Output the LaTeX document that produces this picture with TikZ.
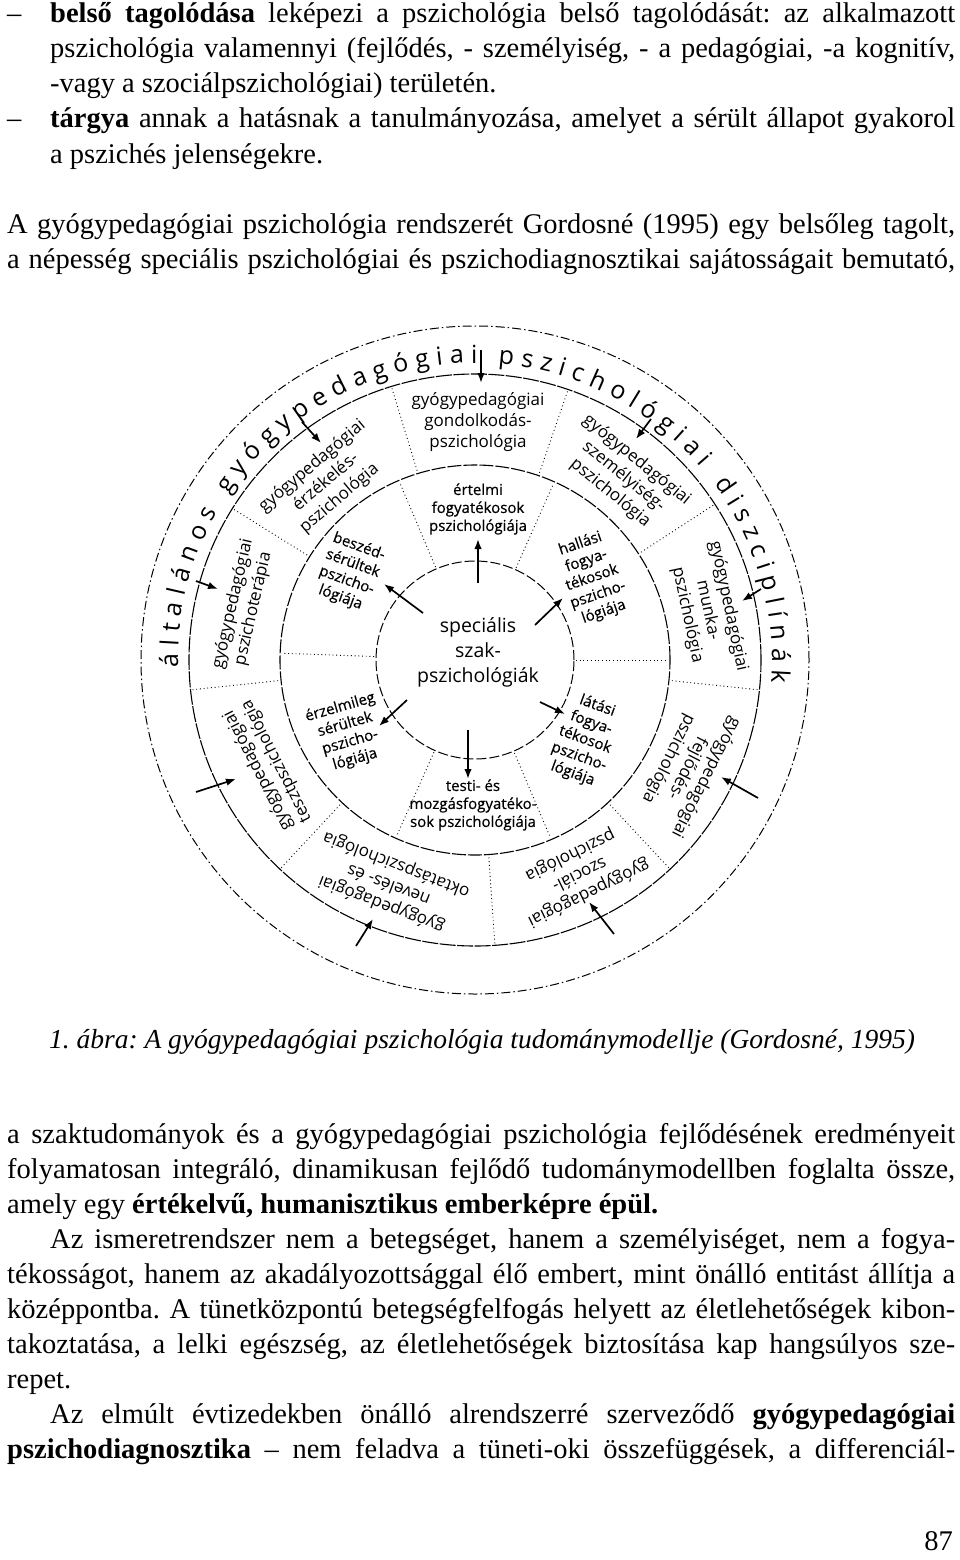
\documentclass[tikz,border=0pt]{standalone}
\usepackage{fontspec}
\setmainfont{Liberation Serif}
\newfontfamily\osans{Open Sans}
\newfontfamily\osansb{Open Sans}[FakeBold=0.5]
\usetikzlibrary{arrows.meta,decorations.text,calc}
\newcommand{\justline}[2]{\makebox[#1][s]{#2}}
\frenchspacing
\begin{document}
\begin{tikzpicture}[x=1pt,y=1pt,
  body/.style={anchor=base west, inner sep=0pt, font=\fontsize{28.5}{35}\selectfont},
  ring/.style={align=center, inner sep=0pt, font=\osans\fontsize{17}{21}\selectfont},
  inring/.style={align=center, inner sep=0pt, font=\osansb\fontsize{15}{18}\selectfont},
  arr/.style={line width=1.7pt, -{Latex[length=10pt,width=7.5pt]}},
  divider/.style={line width=0.9pt, dash pattern=on 0.9pt off 2.8pt},
]
\fill[white] (0,0) rectangle (960,-1560);
\useasboundingbox (0,0) rectangle (960,-1560);

% ---------- top text ----------
\node[body] (d1) at (7,-23) {–};
\node[body] (t1) at (50,-23) {\justline{905pt}{\textbf{belső tagolódása} leképezi a pszichológia belső tagolódását: az alkalmazott}};
\node[body] (t2) at (50,-58) {\justline{905pt}{pszichológia valamennyi (fejlődés, - személyiség, - a pedagógiai, -a kognitív,}};
\node[body] (t3) at (50,-93) {-vagy a szociálpszichológiai) területén.};
\node[body] (d2) at (7,-128) {–};
\node[body] (t4) at (50,-128) {\justline{905pt}{\textbf{tárgya} annak a hatásnak a tanulmányozása, amelyet a sérült állapot gyakorol}};
\node[body] (t5) at (50,-163) {a pszichés jelenségekre.};
\node[body] (t6) at (7,-233) {\justline{948pt}{A gyógypedagógiai pszichológia rendszerét Gordosné (1995) egy belsőleg tagolt,}};
\node[body] (t7) at (7,-268) {\justline{948pt}{a népesség speciális pszichológiai és pszichodiagnosztikai sajátosságait bemutató,}};

% ---------- diagram ----------
\coordinate (C) at (475,-660);
\begin{scope}[shift={(C)}]
  \draw[line width=1pt, dash pattern=on 9pt off 3pt on 1.5pt off 3pt] (0,0) circle[radius=334];
  \draw[line width=1.1pt, dash pattern=on 16pt off 1.5pt] (0,0) circle[radius=286];
  \draw[line width=1.1pt, dash pattern=on 14pt off 2pt] (0,0) circle[radius=195];
  \draw[line width=1pt, dash pattern=on 10pt off 3pt] (0,0) circle[radius=99];

  \foreach \a in {33,71,107,148,186,227,274,313,354}
    \draw[divider] (\a:198) -- (\a:284);
  \foreach \a in {0,66,113,178,246,293}
    \draw[divider] (\a:101) -- (\a:193);

  % curved outer title
  \path[decorate, decoration={text along path, text align={fit to path},
    text={|\osans\fontsize{25}{25}\selectfont|általános gyógypedagógiai pszichológiai diszciplínák}}]
    (181.4:297) arc[start angle=181.4, end angle=-4.3, radius=297];

  % outer ring labels
  \node[ring] (gond) at (3,238) {gyógypedagógiai\\gondolkodás-\\pszichológia};
  \node[ring, rotate=-39] (szem) at (51:236) {gyógypedagógiai\\személyiség-\\pszichológia};
  \node[ring, rotate=-78] (munka) at (12:238) {gyógypedagógiai\\munka-\\pszichológia};
  \node[ring, rotate=243] (fejl) at (333:238) {gyógypedagógiai\\fejlődés-\\pszichológia};
  \node[ring, rotate=206] (szoc) at (296:238) {gyógypedagógiai\\szociál-\\pszichológia};
  \node[ring, rotate=159] (nev) at (249:240) {gyógypedagógiai\\nevelés- és\\oktatáspszichológia};
  \node[ring, rotate=117] (teszt) at (207:233) {gyógypedagógiai\\tesztpszichológia};
  \node[ring, rotate=77] (terap) at (167:238) {gyógypedagógiai\\pszichoterápia};
  \node[ring, rotate=40] (erzek) at (130:232) {gyógypedagógiai\\érzékelés-\\pszichológia};

  % inner ring labels
  \node[inring] (ert) at (3,151) {értelmi\\fogyatékosok\\pszichológiája};
  \node[inring, rotate=19] (hal) at (35:143) {hallási\\fogya-\\tékosok\\pszicho-\\lógiája};
  \node[inring, rotate=-20] (lat) at (-36:136) {látási\\fogya-\\tékosok\\pszicho-\\lógiája};
  \node[inring] (test) at (-2,-145) {testi- és\\mozgásfogyatéko-\\sok pszichológiája};
  \node[inring, rotate=16] (erm) at (210:147) {érzelmileg\\sérültek\\pszicho-\\lógiája};
  \node[inring, rotate=-20] (besz) at (145:153) {beszéd-\\sérültek\\pszicho-\\lógiája};

  % centre
  \node[align=center, inner sep=0pt, font=\osans\fontsize{19.5}{25}\selectfont] (spec) at (3,8) {speciális\\szak-\\pszichológiák};
\end{scope}

% arrow end points
\coordinate (a1s) at (478,-583); \coordinate (a1e) at (478,-539);
\coordinate (a2s) at (423,-613); \coordinate (a2e) at (384,-584);
\coordinate (a3s) at (535,-625); \coordinate (a3e) at (563,-598);
\coordinate (a4s) at (540,-702); \coordinate (a4e) at (565,-714);
\coordinate (a5s) at (468,-730); \coordinate (a5e) at (468,-779);
\coordinate (a6s) at (407,-700); \coordinate (a6e) at (379,-726);

\coordinate (b1s) at (481,-350); \coordinate (b1e) at (481,-383);
\coordinate (b2s) at (302,-422); \coordinate (b2e) at (321,-443);
\coordinate (b3s) at (196,-581); \coordinate (b3e) at (218,-589);
\coordinate (b4s) at (651,-419); \coordinate (b4e) at (636,-439);
\coordinate (b5s) at (761,-589); \coordinate (b5e) at (742,-601);
\coordinate (b6s) at (758,-798); \coordinate (b6e) at (721,-777);
\coordinate (b7s) at (614,-934); \coordinate (b7e) at (589,-902);
\coordinate (b8s) at (356,-946); \coordinate (b8e) at (373,-919);
\coordinate (b9s) at (196,-792); \coordinate (b9e) at (236,-779);

\foreach \i in {1,...,6} \draw[arr] (a\i s) -- (a\i e);
\foreach \i in {1,...,9} \draw[arr] (b\i s) -- (b\i e);

% ---------- caption ----------
\node[anchor=base, inner sep=0pt, font=\itshape\fontsize{27.5}{30}\selectfont] (cap) at (482,-1048) {1. ábra: A gyógypedagógiai pszichológia tudománymodellje (Gordosné, 1995)};

% ---------- bottom text ----------
\node[body] (b1) at (7,-1143) {\justline{948pt}{a szaktudományok és a gyógypedagógiai pszichológia fejlődésének eredményeit}};
\node[body] (b2) at (7,-1178) {\justline{948pt}{folyamatosan integráló, dinamikusan fejlődő tudománymodellben foglalta össze,}};
\node[body] (b3) at (7,-1213) {amely egy \textbf{értékelvű, humanisztikus emberképre épül.}};
\node[body] (b4) at (50,-1248) {\justline{905pt}{Az ismeretrendszer nem a betegséget, hanem a személyiséget, nem a fogya-}};
\node[body] (b5) at (7,-1283) {\justline{948pt}{tékosságot, hanem az akadályozottsággal élő embert, mint önálló entitást állítja a}};
\node[body] (b6) at (7,-1318) {\justline{948pt}{középpontba. A tünetközpontú betegségfelfogás helyett az életlehetőségek kibon-}};
\node[body] (b7) at (7,-1353) {\justline{948pt}{takoztatása, a lelki egészség, az életlehetőségek biztosítása kap hangsúlyos sze-}};
\node[body] (b8) at (7,-1388) {repet.};
\node[body] (b9) at (50,-1423) {\justline{905pt}{Az elmúlt évtizedekben önálló alrendszerré szerveződő \textbf{gyógypedagógiai}}};
\node[body] (b10) at (7,-1458) {\justline{948pt}{\textbf{pszichodiagnosztika} – nem feladva a tüneti-oki összefüggések, a differenciál-}};
\node[body, anchor=base east] (pg) at (953,-1550) {87};
\end{tikzpicture}
\end{document}
